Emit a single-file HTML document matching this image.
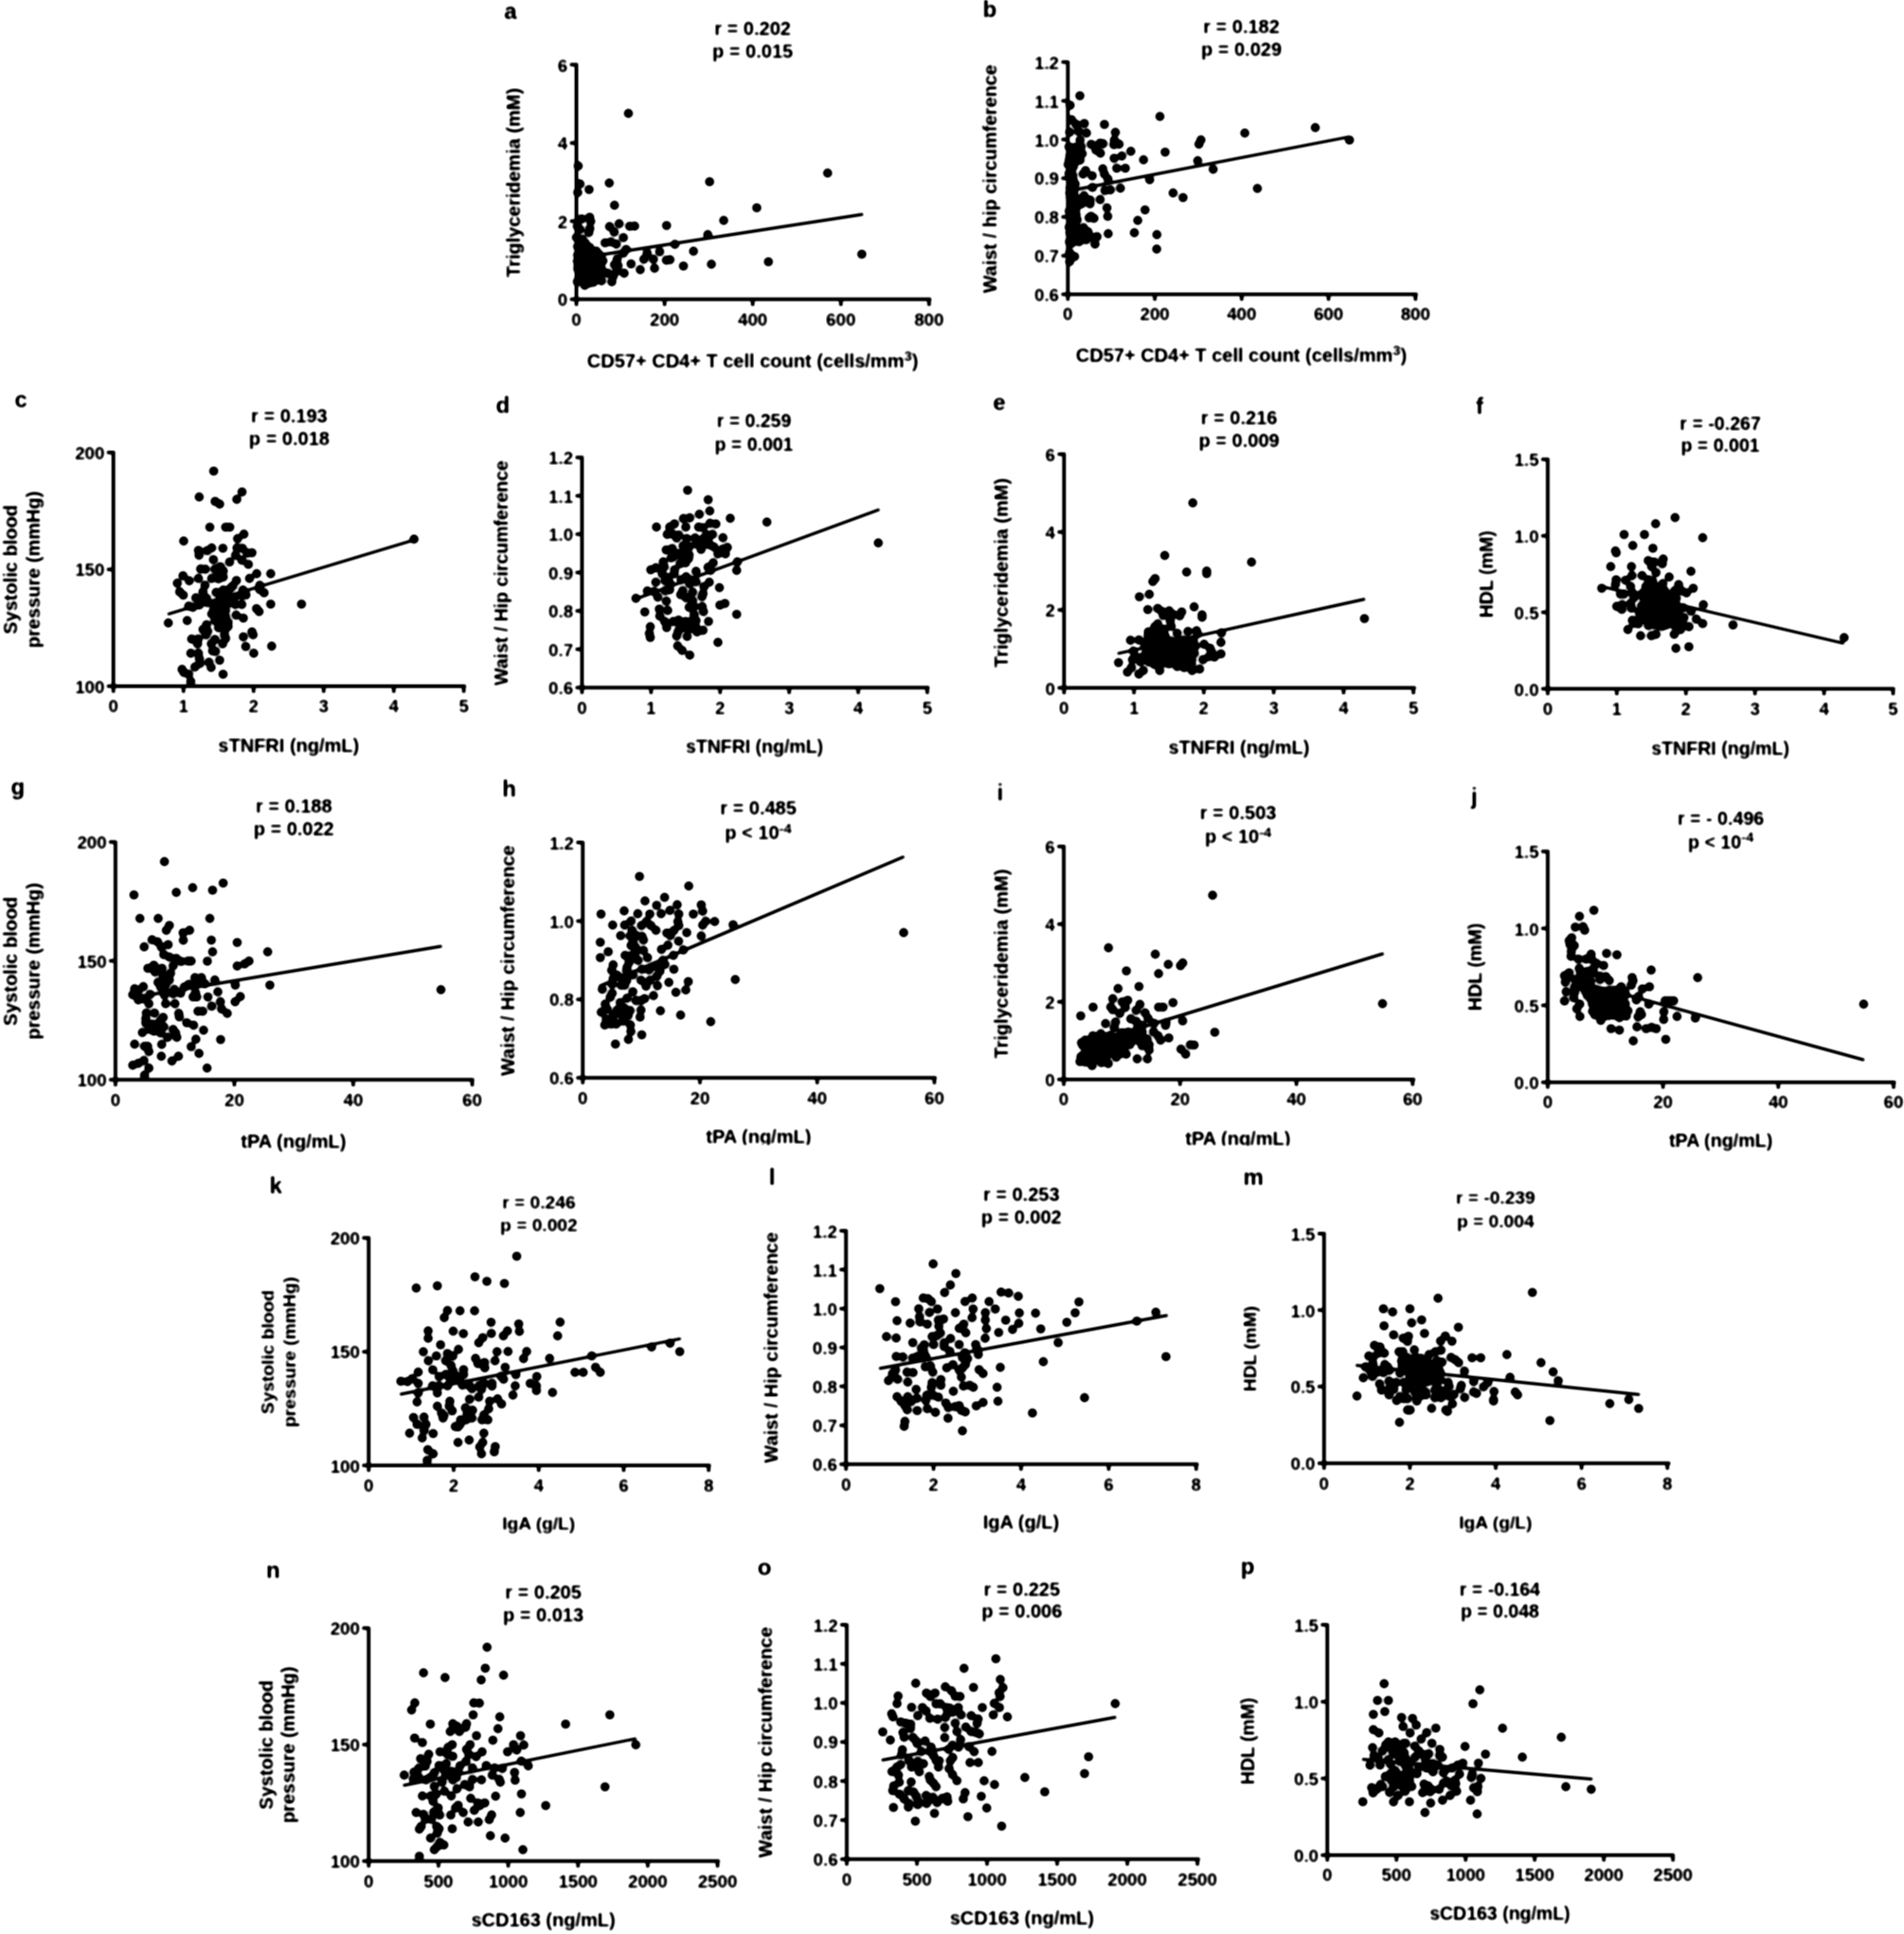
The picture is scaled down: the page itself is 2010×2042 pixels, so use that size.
<!DOCTYPE html>
<html><head><meta charset="utf-8"><title>Figure</title>
<style>
html,body{margin:0;padding:0;background:#fff;}
body{width:2010px;height:2042px;overflow:hidden;}
svg{display:block;}
svg text{font-family:"Liberation Sans",Arial,Helvetica,sans-serif;font-weight:bold;fill:#000;}
</style></head><body>
<svg width="2010" height="2042" viewBox="0 0 2010 2042">
<defs><filter id="soft" filterUnits="userSpaceOnUse" x="0" y="0" width="2010" height="2042"><feGaussianBlur stdDeviation="0.8"/><feComponentTransfer><feFuncA type="linear" slope="1.6" intercept="-0.18"/></feComponentTransfer></filter></defs>
<rect width="2010" height="2042" fill="#fff"/>
<g filter="url(#soft)">
<g id="panel-a">
<path d="M610.4 175.3h0M612.3 194.2h0M609.9 203.2h0M621.9 200.1h0M643.2 193.2h0M749.1 191.9h0M648.7 216.7h0M764 232.7h0M703.7 238.1h0M670 238.7h0M664.8 238.9h0M653.6 236.2h0M643.5 239.3h0M648.4 245h0M658.1 250.9h0M747.2 247.8h0M712.5 258h0M638.8 256.4h0M644.9 255.4h0M650.6 257.8h0M661 263.4h0M658.1 267.2h0M683.2 267.2h0M696.4 265.8h0M732.1 265.3h0M679.7 273.7h0M689.8 273.7h0M703.5 274.8h0M707.3 274.3h0M666.2 278.6h0M721.5 280.9h0M751 279h0M691 283.3h0M675.9 284.7h0M658.9 288.5h0M651.5 273.8h0M648.7 279.5h0M652.5 280.5h0M651.1 286.1h0M641.6 288.5h0M647.3 291.8h0M645.9 297.5h0M635 296.5h0M626.5 298h0M617.3 301.3h0M609.5 297.5h0M614.2 231.1h0M622.5 229.4h0M623.6 233.7h0M609.5 238.9h0M622.7 241.2h0M612.3 242.2h0M621.6 245.5h0M608.5 250.7h0M614.7 252.6h0M618 256.8h0M611.6 255.7h0M616.1 257.3h0M609.8 260.4h0M614 261.3h0M618.5 261.4h0M622.4 261.1h0M612.3 264.2h0M616.1 263.9h0M620.3 264.1h0M624.5 264.6h0M629.6 265.3h0M609.8 269.4h0M613.9 267.5h0M618.9 269.3h0M623.5 268.4h0M627.6 267.6h0M632.4 268.5h0M612.1 273.3h0M614.9 272.9h0M620.1 271.4h0M624.4 272.8h0M630.2 271.2h0M634.2 271.2h0M609.5 275.8h0M614.4 277.2h0M618.1 277.3h0M622.2 275.2h0M627.4 275.1h0M631 275.9h0M636.5 275.4h0M610.2 280.9h0M615.4 281.1h0M621.2 279.8h0M624.8 280.1h0M629.7 280.3h0M634.1 280.4h0M610 284h0M613.4 284.5h0M617.5 283.6h0M623.7 284.1h0M627.2 282.9h0M631.5 284.2h0M635.1 284.3h0M611.5 286.9h0M616.1 287.9h0M620.7 287.6h0M625.3 288.5h0M628.3 286.9h0M634.3 289h0M613.7 291.5h0M617.7 291.4h0M622.3 292.1h0M626.7 291.6h0M632.3 290.8h0M610.8 295.2h0M616.5 295.2h0M619.6 295.7h0M625.3 294.9h0M629 295.4h0M634.7 295.7h0M618.9 299.6h0M622 298.9h0M663.4 119.7h0M873.7 182.7h0M798.9 219.4h0M909.8 268.4h0M811.2 276.4h0" stroke="#000" stroke-width="9.4" stroke-linecap="round" fill="none"/>
<line x1="608.5" y1="272.9" x2="911.2" y2="226.3" stroke="#000" stroke-width="3.0"/>
<path d="M608.5 66.6V316.1H983.1M608.5 68.3h-6.8M608.5 150.9h-6.8M608.5 233.5h-6.8M608.5 316.1h-6.8M608.5 316.1v6.8M701.6 316.1v6.8M794.6 316.1v6.8M887.7 316.1v6.8M980.8 316.1v6.8" stroke="#000" stroke-width="3.5" fill="none" stroke-linejoin="miter" stroke-linecap="butt"/>
<text x="599.2" y="75.5" text-anchor="end" font-size="18.7">6</text>
<text x="599.2" y="158.1" text-anchor="end" font-size="18.7">4</text>
<text x="599.2" y="240.7" text-anchor="end" font-size="18.7">2</text>
<text x="599.2" y="323.3" text-anchor="end" font-size="18.7">0</text>
<text x="608.5" y="343.7" text-anchor="middle" font-size="18.7">0</text>
<text x="701.6" y="343.7" text-anchor="middle" font-size="18.7">200</text>
<text x="794.6" y="343.7" text-anchor="middle" font-size="18.7">400</text>
<text x="887.7" y="343.7" text-anchor="middle" font-size="18.7">600</text>
<text x="980.8" y="343.7" text-anchor="middle" font-size="18.7">800</text>
<text x="532.2" y="20.1" font-size="24">a</text>
<text x="794.6" y="37" text-anchor="middle" font-size="20.0">r = 0.202</text>
<text x="794.6" y="61.1" text-anchor="middle" font-size="20.0">p = 0.015</text>
<text x="794.6" y="387.9" text-anchor="middle" font-size="20.0">CD57+ CD4+ T cell count (cells/mm<tspan dy="-6.8" font-size="14.8">3</tspan><tspan dy="6.8">)</tspan></text>
<text transform="translate(549 192.9) rotate(-90)" text-anchor="middle" font-size="20.0">Triglyceridemia (mM)</text>
</g>
<g id="panel-b">
<path d="M1140 101.1h0M1129.7 111.1h0M1224.5 123h0M1131.3 126.5h0M1136 131.2h0M1144.7 130.4h0M1165.9 131.4h0M1129.2 139.6h0M1138.6 138.6h0M1147 140.5h0M1177.5 139.8h0M1140.2 148h0M1176.4 148h0M1152 152.4h0M1161.2 151.2h0M1164.4 151.7h0M1175.9 152.8h0M1181.4 152.2h0M1130.8 157.5h0M1141.3 154.9h0M1157 158.5h0M1161.7 161.7h0M1142.5 162.2h0M1193.8 159.8h0M1230 160.6h0M1267.8 147.8h0M1265.7 152.2h0M1314.1 140.5h0M1184.3 164.8h0M1176.2 167.1h0M1207.2 168.7h0M1140.2 169h0M1128.7 169h0M1127.6 173.8h0M1133.9 172.2h0M1264.4 169.8h0M1178.9 177.6h0M1188 177.6h0M1164.2 178.3h0M1146 180.1h0M1143.4 183.7h0M1165.9 183.7h0M1153 185.6h0M1169.6 189h0M1280.7 178.7h0M1213.7 189.8h0M1130.8 184.8h0M1132.9 190h0M1135 194.2h0M1153.3 197.9h0M1166.5 201.1h0M1172.2 200.5h0M1182.8 198.7h0M1129.7 198.4h0M1238.4 203.7h0M1248.9 208.6h0M1144.4 206.8h0M1150.7 211.1h0M1161.4 210.8h0M1141.8 215.3h0M1150.7 215.3h0M1131.8 205.8h0M1133.9 211.1h0M1130.8 216.3h0M1168.6 219.5h0M1208.8 221.6h0M1132.9 222.6h0M1136 226.8h0M1169.4 228.4h0M1149.7 230h0M1154.9 230.5h0M1151.8 228.4h0M1201.1 232.8h0M1137.1 232.1h0M1130.8 234.2h0M1128.7 239.9h0M1135 238.4h0M1143.9 240.5h0M1148.6 244.7h0M1140.2 245.7h0M1169.9 246.8h0M1197.5 245.7h0M1221.3 247.8h0M1158.1 249.9h0M1154.9 251h0M1146.5 253.1h0M1139.2 255.2h0M1130.8 248.9h0M1130.8 257.3h0M1156 257.8h0M1221.1 263h0M1129.2 266.7h0M1134.4 270.9h0M1129.2 276.2h0M1128.5 155h0M1134.8 155.6h0M1131.7 160.6h0M1135.4 159.2h0M1129.4 164.8h0M1135.1 163.2h0M1130.9 168.6h0M1136.9 169.6h0M1133.3 175.5h0M1131.8 178.4h0M1128.5 183.3h0M1132.5 185.4h0M1130.2 188.5h0M1134 194.9h0M1130.2 200.6h0M1129.3 203.8h0M1133.5 203.4h0M1130 208.1h0M1136.2 209.7h0M1133.4 213.8h0M1131.9 219.3h0M1136.3 219.3h0M1128.7 223.1h0M1135.3 223h0M1131.7 230.4h0M1135.4 230.2h0M1132.5 233.1h0M1130.1 240.7h0M1135.9 240.1h0M1129.4 245.7h0M1133.5 244h0M1131.1 250.2h0M1135.7 250.1h0M1129 255.4h0M1132.6 255.7h0M1388.5 134.7h0M1424.6 147.9h0M1327.4 199h0" stroke="#000" stroke-width="9.4" stroke-linecap="round" fill="none"/>
<line x1="1127.3" y1="201.7" x2="1423.8" y2="144.6" stroke="#000" stroke-width="3.0"/>
<path d="M1127.3 63.9V310.7H1496.6M1127.3 65.6h-6.8M1127.3 106.5h-6.8M1127.3 147.3h-6.8M1127.3 188.2h-6.8M1127.3 229h-6.8M1127.3 269.9h-6.8M1127.3 310.7h-6.8M1127.3 310.7v6.8M1219.1 310.7v6.8M1310.8 310.7v6.8M1402.5 310.7v6.8M1494.3 310.7v6.8" stroke="#000" stroke-width="3.5" fill="none" stroke-linejoin="miter" stroke-linecap="butt"/>
<text x="1118" y="72.8" text-anchor="end" font-size="18.7">1.2</text>
<text x="1118" y="113.7" text-anchor="end" font-size="18.7">1.1</text>
<text x="1118" y="154.5" text-anchor="end" font-size="18.7">1.0</text>
<text x="1118" y="195.4" text-anchor="end" font-size="18.7">0.9</text>
<text x="1118" y="236.2" text-anchor="end" font-size="18.7">0.8</text>
<text x="1118" y="277.1" text-anchor="end" font-size="18.7">0.7</text>
<text x="1118" y="317.9" text-anchor="end" font-size="18.7">0.6</text>
<text x="1127.3" y="338.3" text-anchor="middle" font-size="18.7">0</text>
<text x="1219.1" y="338.3" text-anchor="middle" font-size="18.7">200</text>
<text x="1310.8" y="338.3" text-anchor="middle" font-size="18.7">400</text>
<text x="1402.5" y="338.3" text-anchor="middle" font-size="18.7">600</text>
<text x="1494.3" y="338.3" text-anchor="middle" font-size="18.7">800</text>
<text x="1037.6" y="18.2" font-size="24">b</text>
<text x="1310.5" y="35.4" text-anchor="middle" font-size="20.0">r = 0.182</text>
<text x="1310.5" y="58.9" text-anchor="middle" font-size="20.0">p = 0.029</text>
<text x="1310.5" y="381.7" text-anchor="middle" font-size="20.0">CD57+ CD4+ T cell count (cells/mm<tspan dy="-6.8" font-size="14.8">3</tspan><tspan dy="6.8">)</tspan></text>
<text transform="translate(1051.5 188.8) rotate(-90)" text-anchor="middle" font-size="20.0">Waist / hip circumference</text>
</g>
<g id="panel-c">
<path d="M225.6 497.4h0M255.5 519.4h0M210.3 524.7h0M250 527.2h0M227.1 529.4h0M231.9 532.3h0M221.5 556.6h0M238.2 556.6h0M242.6 556.6h0M257.5 564h0M250.8 568.8h0M193.9 571.3h0M223.5 578.5h0M218.7 581.4h0M209.5 581.1h0M210.1 586.2h0M235.3 578.9h0M250.2 578.5h0M255.9 578.9h0M248.7 586.2h0M260.9 583.9h0M266 583.6h0M225.3 590.9h0M242.4 593.4h0M255.3 591.5h0M262.2 595.9h0M211.8 600.7h0M216.8 601h0M232.6 598.4h0M226.9 601h0M235.7 602.9h0M230.7 606h0M271 605.8h0M285.8 605.8h0M193.2 607.9h0M199.8 613.3h0M209.5 610.8h0M223.5 610.8h0M230.7 611.1h0M235.7 609.2h0M249.6 612.9h0M263.4 610.8h0M187.2 615.8h0M216.4 618h0M274.2 618h0M189.7 624.9h0M193.5 628.4h0M214.3 624.9h0M228.2 625.5h0M235.7 623h0M243.3 621.1h0M245.8 618.6h0M256.5 623h0M274.2 622.4h0M278.8 625.9h0M259.7 628.1h0M255.3 628.7h0M206.7 631.2h0M210.5 633.7h0M218.1 631.8h0M233.2 631.2h0M240.8 630h0M247.1 631.2h0M199.2 640h0M203.6 641.3h0M210.5 638.8h0M218.7 636.3h0M225.6 638.2h0M232.6 638.2h0M239.5 638.2h0M248.3 638.2h0M255.3 638.2h0M285.8 637.9h0M318.3 637.9h0M270.8 642.6h0M273.5 645.7h0M225.6 643.8h0M231.9 644.5h0M238.2 644.5h0M223.5 648.2h0M230.7 650.1h0M238.2 651.4h0M249.3 649.5h0M256.9 652.6h0M177.7 657.7h0M197.6 655.2h0M226.9 655.2h0M233.2 657.1h0M240.8 657.1h0M218.1 659.6h0M214.3 664.6h0M219.3 666.5h0M217.4 670.3h0M230.7 662.7h0M238.2 664h0M240.8 661.5h0M266 667.1h0M267.2 670.3h0M256.9 672.4h0M237 670.3h0M238.2 674.1h0M202.3 674.7h0M209.2 674.7h0M208.6 679.7h0M226.9 675.3h0M223.1 679.7h0M235.1 679.7h0M259.4 682.6h0M286.8 682.3h0M224.4 687.3h0M227.5 687.7h0M201.4 689.8h0M209.5 689.8h0M267.9 689.8h0M210.5 695.5h0M211.1 700.5h0M220.6 699.3h0M231.9 697.1h0M205.8 704.3h0M222.9 704.7h0M192.2 706.8h0M194.1 710h0M199.2 711.9h0M235.5 711.9h0M201.4 719.5h0M437.1 569.3h0" stroke="#000" stroke-width="9.4" stroke-linecap="round" fill="none"/>
<line x1="176.8" y1="648.6" x2="437.1" y2="570.1" stroke="#000" stroke-width="3.0"/>
<path d="M119.7 475.9V724.6H491.9M119.7 477.7h-6.8M119.7 601.2h-6.8M119.7 724.6h-6.8M119.7 724.6v6.8M193.7 724.6v6.8M267.7 724.6v6.8M341.7 724.6v6.8M415.7 724.6v6.8M489.6 724.6v6.8" stroke="#000" stroke-width="3.5" fill="none" stroke-linejoin="miter" stroke-linecap="butt"/>
<text x="110.4" y="484.9" text-anchor="end" font-size="18.7">200</text>
<text x="110.4" y="608.4" text-anchor="end" font-size="18.7">150</text>
<text x="110.4" y="731.8" text-anchor="end" font-size="18.7">100</text>
<text x="119.7" y="752.2" text-anchor="middle" font-size="18.7">0</text>
<text x="193.7" y="752.2" text-anchor="middle" font-size="18.7">1</text>
<text x="267.7" y="752.2" text-anchor="middle" font-size="18.7">2</text>
<text x="341.7" y="752.2" text-anchor="middle" font-size="18.7">3</text>
<text x="415.7" y="752.2" text-anchor="middle" font-size="18.7">4</text>
<text x="489.6" y="752.2" text-anchor="middle" font-size="18.7">5</text>
<text x="15.6" y="430.3" font-size="24">c</text>
<text x="305.4" y="446.1" text-anchor="middle" font-size="20.0">r = 0.193</text>
<text x="305.4" y="470.2" text-anchor="middle" font-size="20.0">p = 0.018</text>
<text x="304.8" y="794.3" text-anchor="middle" font-size="20.0">sTNFRI (ng/mL)</text>
<text transform="translate(18.2 601.4) rotate(-90)" text-anchor="middle" font-size="20.0">Systolic blood</text>
<text transform="translate(41.8 601.4) rotate(-90)" text-anchor="middle" font-size="20.0">pressure (mmHg)</text>
</g>
<g id="panel-d">
<path d="M725.9 517.6h0M747.6 527.6h0M749.3 539.5h0M738.3 543h0M728.2 546.8h0M721.5 547.5h0M770.9 547.3h0M809.6 551.2h0M693 556.5h0M712 553.1h0M707 556.5h0M724 556.5h0M749.5 552.5h0M755.8 553.3h0M737.5 556.5h0M742.2 557.3h0M704.4 564.3h0M709.6 563.8h0M716.4 564.9h0M714.3 568h0M724.9 568.6h0M733.8 568h0M746.4 564.9h0M752.2 564.3h0M743.2 568h0M763.2 567.8h0M747.4 570.1h0M739 572.2h0M721.2 576.4h0M727.5 577.5h0M734.8 574.3h0M742.2 575.4h0M749.5 575.4h0M753.7 577.5h0M767.9 578h0M763.2 579.6h0M703.3 580.6h0M709.6 579.1h0M740.1 580.1h0M757.9 584.8h0M765.8 584.8h0M715.9 584.8h0M722.2 583.8h0M727.5 585.9h0M710.7 588h0M708.6 589h0M727 589.6h0M720.7 592.2h0M700.2 593.2h0M718 595.3h0M723.8 594.3h0M752.9 594.3h0M701.2 598.5h0M692.3 599.5h0M687 601.6h0M712.2 601.6h0M747.4 599h0M750.1 602.2h0M778.4 593.2h0M777.7 602.2h0M734.8 603.2h0M699.1 605.8h0M711.7 605.8h0M705.4 610h0M724.3 609h0M719.1 612.1h0M728.5 612.1h0M734.8 614.2h0M702.3 613.2h0M707.5 616.3h0M692.3 614.8h0M728 616.3h0M748.8 614.8h0M743.2 619.5h0M759.5 620.5h0M683.4 624h0M690.7 624.7h0M702.3 623.7h0M707 622.6h0M720.7 623.7h0M731.2 625.3h0M742.2 626.8h0M718.6 627.9h0M741.1 630h0M671.3 631.8h0M694.4 630.5h0M724.3 631.1h0M731.2 634.2h0M703.5 634.7h0M765.3 637.1h0M760 638.9h0M727.5 641.3h0M732.7 640.5h0M741.3 640.5h0M696 643.1h0M704.9 644.5h0M742.7 645.8h0M680.7 646.1h0M777.7 648.6h0M696.5 650.5h0M732.7 648.9h0M701.7 656.3h0M710.7 656.3h0M716.4 654.7h0M723.8 656.3h0M729.6 656.3h0M734.8 655.2h0M748 656.1h0M686.5 661.8h0M703.8 662.6h0M718 661.5h0M723.3 662.6h0M728.5 663.6h0M734.3 661.5h0M742.2 665.5h0M715.9 666.8h0M685.5 668.7h0M735.9 667.3h0M686.5 673.1h0M714.3 671.5h0M725.4 672h0M757.9 678.3h0M715.4 682h0M720.1 686.7h0M728.2 691.8h0M927.2 573.3h0" stroke="#000" stroke-width="9.4" stroke-linecap="round" fill="none"/>
<line x1="675.4" y1="630.9" x2="928.6" y2="537.9" stroke="#000" stroke-width="3.0"/>
<path d="M614.4 481.3V726H981.2M614.4 483h-6.8M614.4 523.5h-6.8M614.4 564h-6.8M614.4 604.5h-6.8M614.4 645h-6.8M614.4 685.5h-6.8M614.4 726h-6.8M614.4 726v6.8M687.3 726v6.8M760.2 726v6.8M833.1 726v6.8M906 726v6.8M978.9 726v6.8" stroke="#000" stroke-width="3.5" fill="none" stroke-linejoin="miter" stroke-linecap="butt"/>
<text x="605.1" y="490.2" text-anchor="end" font-size="18.7">1.2</text>
<text x="605.1" y="530.7" text-anchor="end" font-size="18.7">1.1</text>
<text x="605.1" y="571.2" text-anchor="end" font-size="18.7">1.0</text>
<text x="605.1" y="611.7" text-anchor="end" font-size="18.7">0.9</text>
<text x="605.1" y="652.2" text-anchor="end" font-size="18.7">0.8</text>
<text x="605.1" y="692.7" text-anchor="end" font-size="18.7">0.7</text>
<text x="605.1" y="733.2" text-anchor="end" font-size="18.7">0.6</text>
<text x="614.4" y="753.6" text-anchor="middle" font-size="18.7">0</text>
<text x="687.3" y="753.6" text-anchor="middle" font-size="18.7">1</text>
<text x="760.2" y="753.6" text-anchor="middle" font-size="18.7">2</text>
<text x="833.1" y="753.6" text-anchor="middle" font-size="18.7">3</text>
<text x="906" y="753.6" text-anchor="middle" font-size="18.7">4</text>
<text x="978.9" y="753.6" text-anchor="middle" font-size="18.7">5</text>
<text x="523.6" y="435.6" font-size="24">d</text>
<text x="796" y="451.4" text-anchor="middle" font-size="19.5">r = 0.259</text>
<text x="796" y="475.5" text-anchor="middle" font-size="19.5">p = 0.001</text>
<text x="796.5" y="795.1" text-anchor="middle" font-size="19.5">sTNFRI (ng/mL)</text>
<text transform="translate(535.6 604.9) rotate(-90)" text-anchor="middle" font-size="19.5">Waist / Hip circumference</text>
</g>
<g id="panel-e">
<path d="M1259.2 531h0M1229.6 586.5h0M1321.2 593.5h0M1252.7 604h0M1273.9 603h0M1273.9 605.6h0M1219.4 610.9h0M1217 614h0M1213.3 627.5h0M1202.8 630.1h0M1211.7 643.6h0M1222.2 642.4h0M1226.4 645.5h0M1234.3 645h0M1247.5 646.1h0M1245.4 650.3h0M1228 649.7h0M1238.5 648.7h0M1260.6 640.8h0M1269 649.2h0M1269 651.8h0M1235.4 655.5h0M1222.2 658.7h0M1219.1 661.8h0M1236.4 661.3h0M1229.1 664.4h0M1212.3 667.1h0M1242.7 668.6h0M1254.1 666.7h0M1263.2 666h0M1264.3 669.2h0M1289.5 668.1h0M1193.4 676h0M1202.3 675.7h0M1288.9 678.3h0M1271.1 680.2h0M1277.4 684.4h0M1279 688.1h0M1288.9 690.4h0M1282.1 693.8h0M1276.3 693.3h0M1270 696.5h0M1180.8 699.6h0M1196.5 687.5h0M1195.5 696.5h0M1194.4 704.9h0M1190.2 709.6h0M1202.3 711.7h0M1207 708h0M1224.3 708h0M1242.7 703.8h0M1250.1 704.9h0M1258.5 708h0M1266.4 706.4h0M1201.8 694.4h0M1203.9 698.6h0M1220.1 667.1h0M1212.1 670.7h0M1218 672.7h0M1223.2 672h0M1229.9 671.4h0M1210.4 677.5h0M1216.5 675.9h0M1222.6 675.5h0M1226.5 677.2h0M1231.3 676.5h0M1236.4 677h0M1243.9 676.7h0M1249.6 676h0M1254.6 676.8h0M1259.8 676.4h0M1208.6 682.5h0M1213 681.7h0M1217.4 681.8h0M1224.4 682.6h0M1230.4 680.7h0M1234.6 681.7h0M1239.1 681.1h0M1245 680.2h0M1250.1 682h0M1255.8 680.6h0M1262 682.3h0M1210.5 687h0M1216.7 687h0M1220.7 685.7h0M1226.4 687h0M1233.5 685h0M1236.8 685.2h0M1242.4 685.9h0M1248.9 685.3h0M1252.7 685.8h0M1259.2 686.2h0M1208.9 691.2h0M1213.2 691h0M1219.1 689.5h0M1225.1 691.5h0M1230.5 691.5h0M1234.7 690.4h0M1239.3 691.1h0M1244.7 689.5h0M1250.5 689.8h0M1256.4 689.5h0M1260.9 689.8h0M1209.1 696.5h0M1216.2 694.5h0M1220.6 695h0M1226.4 694.4h0M1233.2 696.8h0M1237.6 695.4h0M1242 694.4h0M1248.2 694.8h0M1255 694.5h0M1258.2 696.7h0M1213.2 698.9h0M1218.6 701.5h0M1225 700.7h0M1228.8 699.8h0M1234 700.9h0M1240.5 700.9h0M1245.4 699.4h0M1252.2 701.5h0M1257.8 701h0M1440.4 653.1h0" stroke="#000" stroke-width="9.4" stroke-linecap="round" fill="none"/>
<line x1="1179.6" y1="690.1" x2="1441.2" y2="632.5" stroke="#000" stroke-width="3.0"/>
<path d="M1123.3 477.8V726.2H1494.7M1123.3 479.6h-6.8M1123.3 561.8h-6.8M1123.3 644h-6.8M1123.3 726.2h-6.8M1123.3 726.2v6.8M1197.1 726.2v6.8M1270.8 726.2v6.8M1344.6 726.2v6.8M1418.4 726.2v6.8M1492.1 726.2v6.8" stroke="#000" stroke-width="3.5" fill="none" stroke-linejoin="miter" stroke-linecap="butt"/>
<text x="1114" y="486.8" text-anchor="end" font-size="18.7">6</text>
<text x="1114" y="569" text-anchor="end" font-size="18.7">4</text>
<text x="1114" y="651.2" text-anchor="end" font-size="18.7">2</text>
<text x="1114" y="733.5" text-anchor="end" font-size="18.7">0</text>
<text x="1123.3" y="753.9" text-anchor="middle" font-size="18.7">0</text>
<text x="1197.1" y="753.9" text-anchor="middle" font-size="18.7">1</text>
<text x="1270.8" y="753.9" text-anchor="middle" font-size="18.7">2</text>
<text x="1344.6" y="753.9" text-anchor="middle" font-size="18.7">3</text>
<text x="1418.4" y="753.9" text-anchor="middle" font-size="18.7">4</text>
<text x="1492.1" y="753.9" text-anchor="middle" font-size="18.7">5</text>
<text x="1048.3" y="432.9" font-size="24">e</text>
<text x="1308.1" y="448.2" text-anchor="middle" font-size="20.0">r = 0.216</text>
<text x="1308.1" y="472.3" text-anchor="middle" font-size="20.0">p = 0.009</text>
<text x="1307.9" y="796.4" text-anchor="middle" font-size="20.0">sTNFRI (ng/mL)</text>
<text transform="translate(1064.4 604.9) rotate(-90)" text-anchor="middle" font-size="20.0">Triglyceridemia (mM)</text>
</g>
<g id="panel-f">
<path d="M1768.3 546.5h0M1747.8 553h0M1714.5 564.4h0M1736 564.4h0M1797.5 567.7h0M1723.7 576h0M1744.9 578.9h0M1705.4 581.8h0M1706.2 583.6h0M1755.8 590.3h0M1740 591.9h0M1746.4 593.4h0M1754.9 595.2h0M1743.6 598.3h0M1700.4 598.3h0M1722.3 598.3h0M1748.2 604.6h0M1785.1 603.2h0M1722.8 607.7h0M1733.5 607.7h0M1762.1 609.3h0M1706.1 612.1h0M1716.1 612.6h0M1740.2 612.1h0M1744.6 613.5h0M1755.4 616.2h0M1705.4 617.1h0M1772.1 617.3h0M1690.9 621.1h0M1721.4 619.3h0M1737.5 619.3h0M1750 620.2h0M1787.5 621.1h0M1767.9 623.8h0M1775 623.8h0M1710.7 627.3h0M1714.3 627.3h0M1723.7 626.4h0M1780.4 626h0M1725 630.9h0M1739.3 628.2h0M1746.4 628.2h0M1755.4 629.1h0M1764.3 628.2h0M1769.6 631.8h0M1736.6 635.4h0M1742.9 635.4h0M1750.9 634.5h0M1762.5 635.4h0M1706.7 640.3h0M1712.5 638.5h0M1721.4 637.1h0M1733 639.8h0M1798.2 638.5h0M1712.1 643.4h0M1722.3 642.1h0M1744.6 641.6h0M1752.7 644.3h0M1764.3 642.5h0M1776.8 641.6h0M1785.3 645.2h0M1730.4 646.1h0M1739.3 647h0M1758.9 648.8h0M1771.4 648.8h0M1777.7 652.3h0M1790.8 653.7h0M1723.2 655h0M1730.4 653.2h0M1737.5 654.1h0M1746.4 653.2h0M1753.6 655h0M1762.5 655h0M1769.6 655h0M1724.6 658.1h0M1729.5 658.6h0M1740.2 660.4h0M1746.4 659.5h0M1754.5 661.2h0M1759.8 659.5h0M1767.9 660.4h0M1775.9 658.6h0M1783 661.7h0M1797.5 658.4h0M1829.5 659.9h0M1718.5 664.8h0M1774.1 664.8h0M1767.4 669.7h0M1748.2 669.7h0M1743.3 671.3h0M1731.9 671.3h0M1769.2 684.5h0M1782.9 682.9h0M1738.1 621.3h0M1743.5 620.9h0M1748.2 620.8h0M1752.6 619.7h0M1734.8 625.7h0M1741.7 623.5h0M1745.6 624.7h0M1749.8 624.5h0M1757.3 623.7h0M1732.2 627.9h0M1737 629.3h0M1742.1 628.1h0M1748.5 630.3h0M1753.5 628.9h0M1759.2 628.1h0M1764.2 628.3h0M1735.8 632.7h0M1740.1 634.9h0M1747.2 632.7h0M1751.6 634.8h0M1755.6 633.9h0M1760.2 633.3h0M1767.1 633.9h0M1737.7 639.1h0M1743.5 638h0M1748.2 639.4h0M1753.9 636.9h0M1759.6 637.7h0M1763.8 637.4h0M1769.1 637.7h0M1739.5 643.3h0M1746.7 642.6h0M1751.6 642h0M1756.9 642.4h0M1760.7 643.8h0M1766.4 642.3h0M1738.6 646.3h0M1744.2 646.5h0M1747.3 648.3h0M1752.8 648.3h0M1760.1 647.4h0M1762.8 646h0M1768.4 646.8h0M1735.2 650.7h0M1740.9 650.7h0M1744.8 651.7h0M1751.6 650.5h0M1756.1 652.1h0M1762.1 651.3h0M1767.6 650.7h0M1739.1 656.1h0M1742.3 654.9h0M1748.6 655.2h0M1754 655h0M1759.6 655.4h0M1762.8 655.2h0M1752.1 660.7h0M1756.3 660.7h0M1946.8 673.2h0" stroke="#000" stroke-width="9.4" stroke-linecap="round" fill="none"/>
<line x1="1692.3" y1="619.6" x2="1946.8" y2="679.4" stroke="#000" stroke-width="3.0"/>
<path d="M1633.9 483.2V727.3H2000.5M1633.9 484.9h-6.8M1633.9 565.7h-6.8M1633.9 646.5h-6.8M1633.9 727.3h-6.8M1633.9 727.3v6.8M1706.8 727.3v6.8M1779.8 727.3v6.8M1852.7 727.3v6.8M1925.6 727.3v6.8M1998.5 727.3v6.8" stroke="#000" stroke-width="3.5" fill="none" stroke-linejoin="miter" stroke-linecap="butt"/>
<text x="1624.6" y="492.1" text-anchor="end" font-size="18.7">1.5</text>
<text x="1624.6" y="572.9" text-anchor="end" font-size="18.7">1.0</text>
<text x="1624.6" y="653.7" text-anchor="end" font-size="18.7">0.5</text>
<text x="1624.6" y="734.5" text-anchor="end" font-size="18.7">0.0</text>
<text x="1633.9" y="754.9" text-anchor="middle" font-size="18.7">0</text>
<text x="1706.8" y="754.9" text-anchor="middle" font-size="18.7">1</text>
<text x="1779.8" y="754.9" text-anchor="middle" font-size="18.7">2</text>
<text x="1852.7" y="754.9" text-anchor="middle" font-size="18.7">3</text>
<text x="1925.6" y="754.9" text-anchor="middle" font-size="18.7">4</text>
<text x="1998.5" y="754.9" text-anchor="middle" font-size="18.7">5</text>
<text x="1557.9" y="437" font-size="24">f</text>
<text x="1816.1" y="453.6" text-anchor="middle" font-size="19.6">r = -0.267</text>
<text x="1816.1" y="477.1" text-anchor="middle" font-size="19.6">p = 0.001</text>
<text x="1816.1" y="797" text-anchor="middle" font-size="19.6">sTNFRI (ng/mL)</text>
<text transform="translate(1575.8 606.2) rotate(-90)" text-anchor="middle" font-size="19.6">HDL (mM)</text>
</g>
<g id="panel-g">
<path d="M173.6 909.7h0M235.6 932.4h0M203.4 937.3h0M224.4 939.9h0M186.1 942.3h0M141.4 944.9h0M147.7 969.8h0M167 969.8h0M221.5 969.8h0M178.8 977.1h0M175.6 982.3h0M200.2 982.3h0M193.3 984.9h0M193.5 992.8h0M160.5 992.2h0M166.4 994.5h0M177.5 997.4h0M152.2 999.8h0M170.3 1000h0M223.1 992.6h0M250.4 995.1h0M224.4 1005h0M282.6 1005h0M172.9 1007.9h0M178.8 1010.5h0M186.1 1011.9h0M191.3 1015.1h0M198.5 1014.7h0M201.8 1014.7h0M218.9 1014.9h0M262.9 1014.7h0M258.3 1017.8h0M250.4 1020h0M162.4 1019.1h0M156.1 1022.4h0M171 1022.4h0M182.8 1019.7h0M163.7 1026.3h0M180.1 1027.6h0M172.3 1030.2h0M205.8 1032.2h0M212.7 1032.2h0M178.8 1034.8h0M166.8 1037.2h0M226.8 1034.8h0M169.6 1042.1h0M174.9 1039.4h0M199.2 1039.4h0M207.7 1038.8h0M216.3 1038.8h0M194.6 1042.1h0M151.3 1041.8h0M142.1 1044h0M146 1046h0M140.1 1050.3h0M144.7 1051.9h0M184.1 1044.7h0M174.9 1047.3h0M182.8 1049.3h0M190.7 1048.6h0M158.5 1049.9h0M173.6 1050.6h0M248.4 1040.1h0M284.9 1040.1h0M230 1047.3h0M206.4 1048h0M203.8 1052.6h0M207.7 1052.6h0M219.5 1052.6h0M253.7 1052.3h0M146 1055.8h0M151.3 1054.5h0M157.2 1059.8h0M174.9 1059.8h0M184.7 1059.8h0M232.7 1057.8h0M248.2 1057.8h0M223.5 1062.4h0M234 1065.4h0M239.9 1070h0M209 1067.7h0M214 1067.7h0M154.5 1069.6h0M163.1 1069.6h0M188.7 1070h0M189.3 1073.6h0M172.3 1074.2h0M153.9 1075.5h0M169 1078.2h0M153.9 1080.1h0M161.1 1081.4h0M172.9 1084.1h0M197.2 1079.9h0M204.4 1082.5h0M157.8 1086.7h0M165.7 1086h0M182.8 1087h0M214.9 1087.8h0M150.3 1090.2h0M162.4 1088.7h0M169.6 1090.6h0M185.4 1090.6h0M176.9 1095.2h0M186.7 1095.2h0M206.8 1097.2h0M232.9 1097.6h0M142.1 1102.5h0M170.7 1102.7h0M152.6 1104.8h0M155.9 1104.8h0M201.8 1105.1h0M157.2 1110.3h0M210.1 1112.3h0M170.3 1115.3h0M188.4 1115.3h0M181.5 1120.2h0M151.9 1119.8h0M146 1122.8h0M140.1 1124.8h0M157.2 1127.7h0M218.6 1127.7h0M152.6 1135.3h0M465.5 1045h0" stroke="#000" stroke-width="9.4" stroke-linecap="round" fill="none"/>
<line x1="139.3" y1="1053.6" x2="466.6" y2="998.9" stroke="#000" stroke-width="3.0"/>
<path d="M121.9 887.4V1140.1H500.5M121.9 889.1h-6.8M121.9 1014.6h-6.8M121.9 1140.1h-6.8M121.9 1140.1v6.8M247.4 1140.1v6.8M372.9 1140.1v6.8M498.5 1140.1v6.8" stroke="#000" stroke-width="3.5" fill="none" stroke-linejoin="miter" stroke-linecap="butt"/>
<text x="112.6" y="896.3" text-anchor="end" font-size="18.7">200</text>
<text x="112.6" y="1021.8" text-anchor="end" font-size="18.7">150</text>
<text x="112.6" y="1147.3" text-anchor="end" font-size="18.7">100</text>
<text x="121.9" y="1167.7" text-anchor="middle" font-size="18.7">0</text>
<text x="247.4" y="1167.7" text-anchor="middle" font-size="18.7">20</text>
<text x="372.9" y="1167.7" text-anchor="middle" font-size="18.7">40</text>
<text x="498.5" y="1167.7" text-anchor="middle" font-size="18.7">60</text>
<text x="11.6" y="839" font-size="24">g</text>
<text x="310.2" y="857.5" text-anchor="middle" font-size="20.0">r = 0.188</text>
<text x="310.2" y="882.1" text-anchor="middle" font-size="20.0">p = 0.022</text>
<text x="309.9" y="1211.6" text-anchor="middle" font-size="20.0">tPA (ng/mL)</text>
<text transform="translate(18.2 1015) rotate(-90)" text-anchor="middle" font-size="20.0">Systolic blood</text>
<text transform="translate(42.1 1015) rotate(-90)" text-anchor="middle" font-size="20.0">pressure (mmHg)</text>
</g>
<clipPath id="cl-h"><rect x="500" y="1148.9" width="520" height="60"/></clipPath>
<g id="panel-h">
<path d="M675.1 925.4h0M727.1 935.5h0M701.6 947.5h0M680.9 951.2h0M693.2 955.9h0M714.9 955.2h0M740.3 955.4h0M741.8 962h0M707.2 961.3h0M658.9 961.8h0M634.5 965.1h0M673.3 964.8h0M686 965.1h0M697.9 964.8h0M716.6 965.1h0M731.9 965.1h0M666.2 972.5h0M682.5 973h0M715.6 973h0M745 972.8h0M754.5 973h0M741.8 976.7h0M646.8 976.7h0M659.4 976.7h0M677.2 977.2h0M687.2 977.2h0M716.6 977.2h0M773.9 976.4h0M692.5 982.3h0M667.3 982.5h0M711.4 982.5h0M704 985.1h0M725 984.8h0M655.2 987.9h0M665.2 988.3h0M671.5 987.7h0M677.8 988.8h0M707.7 987.7h0M740.3 988.3h0M679.3 992.5h0M668.3 994h0M716.4 993.7h0M633.7 994.9h0M666.2 998.2h0M670.9 1000.3h0M705.1 998h0M698.3 1002.4h0M679.3 1003.5h0M642.1 1004.9h0M721.4 1003h0M670.4 1006.6h0M659.9 1008.7h0M666.2 1009.3h0M710.9 1008.7h0M633.7 1011.1h0M683.6 1011.1h0M673.6 1014h0M699.8 1014h0M664.1 1016.1h0M647.3 1018.7h0M701.9 1018.2h0M662 1021.3h0M692.5 1020.3h0M677.8 1023.4h0M685.1 1024h0M711.4 1023.4h0M645.7 1024.5h0M661.5 1024.5h0M696.7 1025.5h0M651.5 1029.7h0M668.3 1029.2h0M656.8 1032.9h0M693.5 1030.8h0M647.3 1033.4h0M676.7 1035h0M686.2 1035h0M661.5 1035.5h0M706.1 1037.3h0M726.6 1036.4h0M776.2 1034.2h0M646.3 1039.2h0M655.7 1040.3h0M659.4 1040.3h0M682 1041.3h0M694.1 1040.8h0M635.8 1044.5h0M724 1045.3h0M646.3 1048.7h0M668.1 1047.1h0M713.5 1047.8h0M644.2 1052.9h0M689.9 1051.3h0M662 1053.9h0M680.4 1054.4h0M671.5 1056.5h0M676.7 1056.5h0M654.7 1058.6h0M638.9 1060.2h0M641 1065.5h0M658.9 1064.4h0M651.5 1066.5h0M665.2 1067h0M676.7 1066.5h0M697.2 1067.2h0M634.7 1068.8h0M647.8 1071.8h0M656.8 1072.3h0M663.1 1072.3h0M718.5 1071.8h0M675.7 1073.9h0M640 1076h0M647.3 1078.1h0M657.8 1078.1h0M750.3 1078.8h0M638.4 1082.3h0M645.2 1081.2h0M650.5 1081.2h0M665.5 1082.3h0M666 1089.1h0M677.5 1092.6h0M663.4 1097.5h0M649.7 1102.4h0M954 984.7h0" stroke="#000" stroke-width="9.4" stroke-linecap="round" fill="none"/>
<line x1="632.6" y1="1041.5" x2="954.6" y2="904.4" stroke="#000" stroke-width="3.0"/>
<path d="M615.2 887.9V1137.9H988.7M615.2 889.6h-6.8M615.2 972.4h-6.8M615.2 1055.2h-6.8M615.2 1137.9h-6.8M615.2 1137.9v6.8M738.9 1137.9v6.8M862.7 1137.9v6.8M986.4 1137.9v6.8" stroke="#000" stroke-width="3.5" fill="none" stroke-linejoin="miter" stroke-linecap="butt"/>
<text x="605.9" y="896.8" text-anchor="end" font-size="18.7">1.2</text>
<text x="605.9" y="979.6" text-anchor="end" font-size="18.7">1.0</text>
<text x="605.9" y="1062.4" text-anchor="end" font-size="18.7">0.8</text>
<text x="605.9" y="1145.1" text-anchor="end" font-size="18.7">0.6</text>
<text x="615.2" y="1165.5" text-anchor="middle" font-size="18.7">0</text>
<text x="738.9" y="1165.5" text-anchor="middle" font-size="18.7">20</text>
<text x="862.7" y="1165.5" text-anchor="middle" font-size="18.7">40</text>
<text x="986.4" y="1165.5" text-anchor="middle" font-size="18.7">60</text>
<text x="530.3" y="840.9" font-size="24">h</text>
<text x="800.5" y="860.4" text-anchor="middle" font-size="20.0">r = 0.485</text>
<text x="800.5" y="886.4" text-anchor="middle" font-size="20.0">p < 10<tspan dy="-6.8" font-size="14.8">-4</tspan><tspan dy="6.8">&#8203;</tspan></text>
<text x="800.8" y="1207.1" text-anchor="middle" font-size="20.0" clip-path="url(#cl-h)">tPA (ng/mL)</text>
<text transform="translate(542.9 1014.2) rotate(-90)" text-anchor="middle" font-size="20.0">Waist / Hip circumference</text>
</g>
<clipPath id="cl-i"><rect x="1010" y="1149.7" width="520" height="60"/></clipPath>
<g id="panel-i">
<path d="M1280.1 945.3h0M1170.2 1000.7h0M1219.6 1007.5h0M1233.3 1018.3h0M1248.6 1016.7h0M1246.2 1019.6h0M1189.1 1025.1h0M1223.1 1028h0M1202.4 1041.6h0M1180.3 1043.7h0M1174.7 1054.5h0M1190.5 1056.1h0M1184.7 1057.9h0M1203.4 1060.5h0M1238.3 1058.6h0M1153.9 1063.4h0M1172.6 1063.2h0M1187.9 1063.7h0M1223.1 1063.4h0M1227.8 1063.4h0M1174.7 1066.1h0M1199.4 1066.8h0M1182.1 1070h0M1208.9 1069.5h0M1140.9 1072.6h0M1212 1075.2h0M1193.7 1075.8h0M1199.4 1078.4h0M1177.7 1079.1h0M1167.1 1080.7h0M1218.3 1080.5h0M1230.9 1080h0M1248.5 1077.9h0M1205.7 1082.6h0M1230.4 1082.6h0M1176.3 1085.2h0M1200.5 1086.3h0M1282.4 1089.9h0M1217.8 1089.4h0M1205.7 1089.4h0M1162.1 1091.5h0M1184.2 1090.5h0M1153.7 1093.6h0M1222.5 1093.6h0M1233.9 1095.9h0M1211 1097.3h0M1225.2 1098.3h0M1141.7 1101h0M1193.1 1101h0M1256.7 1103.1h0M1260.6 1103.4h0M1205.7 1104.1h0M1213.1 1103.1h0M1246.7 1107.8h0M1213.1 1108.8h0M1251.7 1113h0M1188.9 1113h0M1178.4 1116.2h0M1200.5 1118h0M1211.3 1118h0M1141.1 1115.7h0M1140.1 1120.9h0M1145.9 1121.4h0M1152.9 1125.1h0M1162.7 1122h0M1170 1123h0M1186.7 1090.7h0M1191.2 1089.7h0M1155.1 1095.1h0M1160.8 1094.5h0M1166.2 1094.6h0M1171.6 1093.5h0M1178.5 1095.5h0M1183.6 1094.7h0M1187.6 1093.4h0M1193 1093h0M1199.7 1093.9h0M1205.4 1093.8h0M1145.8 1098.1h0M1153.7 1098.8h0M1159.4 1098.6h0M1162.3 1099.2h0M1169.7 1098.2h0M1173.3 1098.4h0M1181.2 1099.6h0M1184.3 1098.2h0M1189.7 1097.7h0M1197.1 1098h0M1201.9 1098.7h0M1143.5 1104.2h0M1148.8 1104h0M1154.3 1103.4h0M1160 1103h0M1167.5 1104.4h0M1171.2 1104.7h0M1176.4 1103.3h0M1183.6 1104h0M1187 1104.9h0M1192.8 1102.9h0M1146.4 1108.6h0M1152.2 1108.2h0M1159.3 1108.3h0M1163.7 1109.3h0M1168.1 1107.4h0M1175.5 1109.2h0M1179.2 1107.5h0M1186 1109.5h0M1143.1 1114.3h0M1149.1 1113.6h0M1154.6 1113.9h0M1161 1112.5h0M1165.3 1113.7h0M1170.5 1112.3h0M1177.3 1114h0M1182.9 1112.5h0M1141.9 1116.8h0M1146.7 1118.9h0M1153.9 1118.2h0M1158.6 1118h0M1162.5 1116.5h0M1167.6 1118.9h0M1459.5 1059.7h0" stroke="#000" stroke-width="9.4" stroke-linecap="round" fill="none"/>
<line x1="1138.6" y1="1105" x2="1460.8" y2="1006.7" stroke="#000" stroke-width="3.0"/>
<path d="M1123 891.9V1139.8H1493.9M1123 893.7h-6.8M1123 975.7h-6.8M1123 1057.8h-6.8M1123 1139.8h-6.8M1123 1139.8v6.8M1245.8 1139.8v6.8M1368.6 1139.8v6.8M1491.3 1139.8v6.8" stroke="#000" stroke-width="3.5" fill="none" stroke-linejoin="miter" stroke-linecap="butt"/>
<text x="1113.7" y="900.9" text-anchor="end" font-size="18.7">6</text>
<text x="1113.7" y="982.9" text-anchor="end" font-size="18.7">4</text>
<text x="1113.7" y="1065" text-anchor="end" font-size="18.7">2</text>
<text x="1113.7" y="1147" text-anchor="end" font-size="18.7">0</text>
<text x="1123" y="1167.4" text-anchor="middle" font-size="18.7">0</text>
<text x="1245.8" y="1167.4" text-anchor="middle" font-size="18.7">20</text>
<text x="1368.6" y="1167.4" text-anchor="middle" font-size="18.7">40</text>
<text x="1491.3" y="1167.4" text-anchor="middle" font-size="18.7">60</text>
<text x="1052.4" y="844.9" font-size="24">i</text>
<text x="1307.1" y="864.7" text-anchor="middle" font-size="20.0">r = 0.503</text>
<text x="1307.1" y="890.4" text-anchor="middle" font-size="20.0">p < 10<tspan dy="-6.8" font-size="14.8">-4</tspan><tspan dy="6.8">&#8203;</tspan></text>
<text x="1306.8" y="1208.9" text-anchor="middle" font-size="20.0" clip-path="url(#cl-i)">tPA (ng/mL)</text>
<text transform="translate(1064.4 1017.7) rotate(-90)" text-anchor="middle" font-size="20.0">Triglyceridemia (mM)</text>
</g>
<clipPath id="cl-j"><rect x="1500" y="1196.5" width="520" height="60"/></clipPath>
<g id="panel-j">
<path d="M1682.6 961.1h0M1667.4 967.5h0M1663 978.9h0M1671.2 978.5h0M1672.9 982.1h0M1659.2 990.1h0M1656.5 993.2h0M1657.4 997.2h0M1661.9 998.4h0M1658.8 1004.4h0M1658.5 1009.7h0M1679.7 1007.5h0M1696 1006.6h0M1707 1008.1h0M1666.3 1012.6h0M1674.4 1012.6h0M1680.2 1012.9h0M1685.5 1017.3h0M1692.9 1019.4h0M1667.2 1022.5h0M1682 1022.7h0M1668.6 1027.1h0M1675.7 1025.8h0M1682 1027.1h0M1656.5 1027.1h0M1651.6 1030.3h0M1689.1 1030.7h0M1695.4 1031.2h0M1662.8 1034.3h0M1652.5 1037h0M1698.9 1035.2h0M1689.1 1034.3h0M1723 1032.1h0M1723.9 1035.6h0M1743.1 1024.3h0M1792.2 1032.3h0M1675.7 1039.6h0M1668.6 1041.4h0M1662.3 1042.3h0M1722.1 1040.1h0M1711.4 1041.9h0M1741.3 1041.9h0M1733.8 1044.1h0M1653.4 1047.1h0M1662.3 1047.7h0M1673.9 1046.8h0M1702.5 1045.9h0M1714.1 1047.7h0M1729.7 1052.1h0M1661.4 1053.5h0M1678.4 1053.5h0M1711.4 1053h0M1651.6 1056.9h0M1727.5 1055.7h0M1757.9 1056.6h0M1762.3 1056.6h0M1766.8 1056.6h0M1740.6 1060.2h0M1667.7 1060.2h0M1664.6 1065.1h0M1718.6 1067.3h0M1731.5 1068.2h0M1756.5 1068.2h0M1732.9 1071.3h0M1729.3 1073.6h0M1667.9 1073.3h0M1709.6 1074.5h0M1716.8 1072.7h0M1770.4 1073.3h0M1756.3 1076.4h0M1789.7 1074.9h0M1728.1 1084.3h0M1700.7 1086.1h0M1709.6 1087.6h0M1737.8 1086.1h0M1743.6 1084.7h0M1748.5 1086.1h0M1724.2 1099h0M1758.5 1097.4h0M1666.8 1037h0M1673.9 1034.3h0M1679.3 1036.1h0M1671.2 1040.5h0M1673.7 1046.7h0M1679 1046.5h0M1684.5 1046.7h0M1687.9 1046.8h0M1693.6 1046.6h0M1699 1045.7h0M1703.7 1045.7h0M1708.7 1044.9h0M1715.2 1046.7h0M1675.7 1051h0M1679.8 1050.9h0M1685.7 1049.6h0M1690.3 1050.5h0M1695.6 1050.3h0M1701.7 1050.1h0M1705.7 1050.4h0M1711.1 1049.7h0M1716.2 1050.1h0M1679.3 1054.6h0M1683.9 1056h0M1687.3 1054h0M1694.5 1055.8h0M1699.2 1054h0M1703.8 1055.8h0M1710.2 1055.7h0M1713.6 1055.8h0M1681 1059.9h0M1685.1 1059.7h0M1691.3 1059.6h0M1695.9 1060h0M1701 1058.8h0M1705.7 1059.8h0M1710.8 1058.7h0M1715.8 1059.7h0M1682.9 1062.8h0M1687.2 1065.1h0M1692.7 1063.3h0M1698.2 1064.1h0M1702.9 1063.8h0M1708.9 1064.7h0M1713.1 1063.4h0M1681.2 1067.8h0M1684.7 1068.3h0M1692.1 1069h0M1695.6 1068.8h0M1702.3 1067.7h0M1706.8 1068h0M1711.1 1067.8h0M1683.6 1071.5h0M1689.2 1072h0M1693.6 1073h0M1698.4 1072.3h0M1703.8 1071.9h0M1710.1 1071.8h0M1689.9 1077.4h0M1967.4 1060.3h0" stroke="#000" stroke-width="9.4" stroke-linecap="round" fill="none"/>
<line x1="1651.3" y1="1032.4" x2="1968.2" y2="1119.2" stroke="#000" stroke-width="3.0"/>
<path d="M1633.9 897.3V1142.8H2001.3M1633.9 899h-6.8M1633.9 980.3h-6.8M1633.9 1061.5h-6.8M1633.9 1142.8h-6.8M1633.9 1142.8v6.8M1755.6 1142.8v6.8M1877.3 1142.8v6.8M1999 1142.8v6.8" stroke="#000" stroke-width="3.5" fill="none" stroke-linejoin="miter" stroke-linecap="butt"/>
<text x="1624.6" y="906.2" text-anchor="end" font-size="18.7">1.5</text>
<text x="1624.6" y="987.5" text-anchor="end" font-size="18.7">1.0</text>
<text x="1624.6" y="1068.7" text-anchor="end" font-size="18.7">0.5</text>
<text x="1624.6" y="1150" text-anchor="end" font-size="18.7">0.0</text>
<text x="1633.9" y="1170.4" text-anchor="middle" font-size="18.7">0</text>
<text x="1755.6" y="1170.4" text-anchor="middle" font-size="18.7">20</text>
<text x="1877.3" y="1170.4" text-anchor="middle" font-size="18.7">40</text>
<text x="1999" y="1170.4" text-anchor="middle" font-size="18.7">60</text>
<text x="1553.1" y="848.9" font-size="24">j</text>
<text x="1816.6" y="870.9" text-anchor="middle" font-size="19.7">r = - 0.496</text>
<text x="1816.6" y="895.8" text-anchor="middle" font-size="19.7">p < 10<tspan dy="-6.7" font-size="14.6">-4</tspan><tspan dy="6.7">&#8203;</tspan></text>
<text x="1816.6" y="1211.3" text-anchor="middle" font-size="19.7" clip-path="url(#cl-j)">tPA (ng/mL)</text>
<text transform="translate(1564.3 1020.9) rotate(-90)" text-anchor="middle" font-size="19.7">HDL (mM)</text>
</g>
<g id="panel-k">
<path d="M545.5 1326.4h0M501.4 1348.1h0M514 1352.9h0M532.5 1355.1h0M461.7 1357.6h0M439.4 1360h0M472.4 1383.7h0M485.6 1384h0M501 1384h0M469 1391.3h0M518.4 1396.1h0M547.6 1397.9h0M591.3 1396h0M452 1405.2h0M478.4 1405.5h0M489.2 1408.1h0M518.7 1407.9h0M535.7 1405.2h0M531.4 1410.5h0M548.3 1405.8h0M588.7 1410.5h0M452 1413h0M509.6 1412.4h0M505.4 1417.8h0M465.1 1419.9h0M484 1424.7h0M446.9 1427.2h0M524.7 1427.2h0M536.3 1427h0M556 1427h0M460.7 1431.6h0M472.4 1429.1h0M478.1 1431.6h0M452.2 1436.7h0M470.5 1436.7h0M502 1434.2h0M552.7 1434.5h0M580.2 1434.2h0M624.7 1431.6h0M522.6 1436.7h0M476.2 1441.7h0M511.5 1438.6h0M504.5 1439.8h0M533.3 1443.6h0M511.8 1444.2h0M456.9 1446.4h0M489.4 1446.1h0M441.5 1448.7h0M478.1 1447.4h0M628.7 1443.6h0M607 1449h0M615.7 1449h0M633.7 1449h0M470.5 1451.2h0M463.6 1453.4h0M480.6 1452.4h0M489.4 1451.2h0M544.6 1451.4h0M566.7 1453.4h0M529.1 1453.1h0M435.2 1455.6h0M423.2 1458.4h0M430.2 1458.7h0M475.5 1456.2h0M484.4 1456.8h0M531.6 1456.2h0M441.5 1460.6h0M559.7 1460.6h0M456.6 1463.2h0M463.6 1463.2h0M472.4 1463.2h0M488.2 1462.5h0M495.7 1463.2h0M505.8 1463.2h0M510.8 1460.6h0M519.4 1460.6h0M519.4 1463.5h0M543.9 1463.2h0M566.3 1463.2h0M498.2 1466.3h0M508.3 1466.9h0M566.3 1468.2h0M441.5 1470.7h0M461.7 1470.7h0M583.3 1470.3h0M541.5 1473h0M505.4 1475.1h0M495.7 1477.4h0M440.3 1480.2h0M474.9 1479.5h0M516.9 1479.5h0M525.3 1477h0M529.5 1482.4h0M461.7 1484.8h0M474.3 1484.6h0M491.3 1486.5h0M498.9 1489h0M515.9 1487.5h0M477.4 1489.6h0M466.1 1492.1h0M468.6 1494.7h0M493.2 1492.8h0M510.8 1494h0M436.5 1496.6h0M447.6 1496.3h0M467.7 1497.2h0M486.3 1499.1h0M498.2 1497.2h0M491.9 1499.1h0M508.9 1499.1h0M515 1499.1h0M440.3 1503.9h0M449.7 1503.9h0M485.6 1504.1h0M480.6 1506.3h0M483.5 1506.6h0M447.6 1510.4h0M432.4 1513.3h0M457.3 1513.6h0M510.8 1513.3h0M445.7 1518.2h0M495.3 1520.5h0M483.5 1523h0M509.6 1523h0M522.8 1527.4h0M506.4 1527.7h0M451.6 1530.6h0M457.3 1535h0M508.3 1535h0M521.8 1532.9h0M451 1541.9h0M687.9 1422.2h0M707.4 1418.2h0M717.6 1427.1h0" stroke="#000" stroke-width="9.4" stroke-linecap="round" fill="none"/>
<line x1="422.1" y1="1472.3" x2="718.9" y2="1413.4" stroke="#000" stroke-width="3.0"/>
<path d="M389.2 1305.3V1547.3H750.4M389.2 1307.1h-6.8M389.2 1427.2h-6.8M389.2 1547.3h-6.8M389.2 1547.3v6.8M478.9 1547.3v6.8M568.7 1547.3v6.8M658.4 1547.3v6.8M748.1 1547.3v6.8" stroke="#000" stroke-width="3.5" fill="none" stroke-linejoin="miter" stroke-linecap="butt"/>
<text x="379.9" y="1314.3" text-anchor="end" font-size="18.7">200</text>
<text x="379.9" y="1434.4" text-anchor="end" font-size="18.7">150</text>
<text x="379.9" y="1554.5" text-anchor="end" font-size="18.7">100</text>
<text x="389.2" y="1574.9" text-anchor="middle" font-size="18.7">0</text>
<text x="478.9" y="1574.9" text-anchor="middle" font-size="18.7">2</text>
<text x="568.7" y="1574.9" text-anchor="middle" font-size="18.7">4</text>
<text x="658.4" y="1574.9" text-anchor="middle" font-size="18.7">6</text>
<text x="748.1" y="1574.9" text-anchor="middle" font-size="18.7">8</text>
<text x="284.5" y="1259.6" font-size="24">k</text>
<text x="568.9" y="1276.2" text-anchor="middle" font-size="19.2">r = 0.246</text>
<text x="568.9" y="1299.8" text-anchor="middle" font-size="19.2">p = 0.002</text>
<text x="568.7" y="1615.1" text-anchor="middle" font-size="19.2">IgA (g/L)</text>
<text transform="translate(289 1427.6) rotate(-90)" text-anchor="middle" font-size="19.2">Systolic blood</text>
<text transform="translate(311.8 1427.6) rotate(-90)" text-anchor="middle" font-size="19.2">pressure (mmHg)</text>
</g>
<g id="panel-l">
<path d="M985.1 1334.5h0M1009.1 1344.6h0M1003.3 1356.7h0M928.8 1360.6h0M997.2 1364.7h0M1056.8 1364.2h0M1064.8 1365.3h0M1075 1368.7h0M974.6 1370.5h0M979.6 1371.1h0M983.2 1374.2h0M945.4 1374.4h0M1026.4 1370.5h0M1018.7 1374.2h0M1044.1 1374.2h0M969.9 1381.9h0M989.8 1382.1h0M981.2 1385.8h0M1008.6 1386h0M1027.3 1382.1h0M1050.7 1382.1h0M1040.2 1386h0M1076.1 1386.2h0M1093.2 1386.5h0M970.7 1390.4h0M1026.2 1391.2h0M990.6 1393.7h0M996.1 1392.6h0M947 1394.5h0M960.8 1397h0M971.3 1395.7h0M979 1398.1h0M1040.2 1393.7h0M1061.7 1393.9h0M1075.5 1397.2h0M1126.2 1396.1h0M1017.4 1398.1h0M991.1 1400.3h0M1012.6 1402.5h0M1041.3 1402.7h0M1068.9 1403.8h0M1098.7 1403.1h0M992.8 1407.5h0M1019.6 1407.3h0M1054.3 1406.9h0M935.8 1411.3h0M946.1 1412.8h0M984 1411.3h0M988.9 1410.2h0M1003.5 1413.3h0M1040 1413h0M963.6 1417.6h0M975.7 1419.9h0M985.6 1419.6h0M996.7 1418h0M1012.6 1419.6h0M1030 1419.6h0M1117.1 1417.6h0M972.7 1423.5h0M996.7 1421.8h0M1002.7 1426.8h0M975.1 1426.8h0M1031.4 1424h0M1018.7 1428.4h0M946.1 1432.3h0M953.1 1432.8h0M963.6 1433.9h0M968.5 1432.3h0M977.4 1432.3h0M1032.8 1430.1h0M1016 1433.4h0M1021.5 1434.5h0M1101.4 1437.8h0M982.3 1442.2h0M976.8 1443.1h0M1006 1440.9h0M999.4 1444.2h0M1019.3 1440.6h0M1016 1444.4h0M1056 1443.7h0M945.4 1446.6h0M1033.6 1446.1h0M957.5 1448.8h0M963.9 1449.2h0M984.7 1448.8h0M942.1 1450.5h0M1012.6 1446.6h0M1037.8 1450.3h0M1014.9 1454h0M937.9 1457.7h0M947.6 1456.3h0M958.3 1459.3h0M993.3 1456.6h0M984 1459.9h0M993.3 1462.6h0M983.2 1464.8h0M1017.1 1463.5h0M1023.7 1462.6h0M1027.5 1464.8h0M1052.6 1464.8h0M967.2 1467h0M1006.4 1469h0M947 1474.8h0M958.3 1474.8h0M978.5 1473.1h0M985.1 1473.1h0M990.6 1475.1h0M968 1476.4h0M951.4 1479.7h0M961.9 1479.7h0M977.4 1478.6h0M1053.5 1479.5h0M998.5 1481.4h0M1037.8 1480.8h0M1030.6 1484.4h0M955.3 1484.1h0M1012.6 1484.1h0M1001.1 1486.1h0M1008.2 1485.2h0M957.8 1488.5h0M968.3 1489.4h0M979 1487.4h0M987.5 1491.3h0M1014.9 1489.1h0M1019 1490.8h0M1089.9 1491.9h0M1000.8 1497.4h0M955.3 1500.7h0M954.5 1506h0M1016 1510.8h0M1200.1 1394.9h0M1220.2 1385.5h0M1230.9 1432.4h0M1144.9 1475.8h0M1139 1374.6h0M1135 1386.1h0" stroke="#000" stroke-width="9.4" stroke-linecap="round" fill="none"/>
<line x1="927.9" y1="1445" x2="1232.8" y2="1388.8" stroke="#000" stroke-width="3.0"/>
<path d="M893.1 1297.8V1546H1265.3M893.1 1299.6h-6.8M893.1 1340.6h-6.8M893.1 1381.7h-6.8M893.1 1422.8h-6.8M893.1 1463.8h-6.8M893.1 1504.9h-6.8M893.1 1546h-6.8M893.1 1546v6.8M985.5 1546v6.8M1077.9 1546v6.8M1170.4 1546v6.8M1262.8 1546v6.8" stroke="#000" stroke-width="3.5" fill="none" stroke-linejoin="miter" stroke-linecap="butt"/>
<text x="883.8" y="1306.8" text-anchor="end" font-size="18.7">1.2</text>
<text x="883.8" y="1347.8" text-anchor="end" font-size="18.7">1.1</text>
<text x="883.8" y="1388.9" text-anchor="end" font-size="18.7">1.0</text>
<text x="883.8" y="1430" text-anchor="end" font-size="18.7">0.9</text>
<text x="883.8" y="1471" text-anchor="end" font-size="18.7">0.8</text>
<text x="883.8" y="1512.1" text-anchor="end" font-size="18.7">0.7</text>
<text x="883.8" y="1553.2" text-anchor="end" font-size="18.7">0.6</text>
<text x="893.1" y="1573.6" text-anchor="middle" font-size="18.7">0</text>
<text x="985.5" y="1573.6" text-anchor="middle" font-size="18.7">2</text>
<text x="1077.9" y="1573.6" text-anchor="middle" font-size="18.7">4</text>
<text x="1170.4" y="1573.6" text-anchor="middle" font-size="18.7">6</text>
<text x="1262.8" y="1573.6" text-anchor="middle" font-size="18.7">8</text>
<text x="811.7" y="1250.8" font-size="24">l</text>
<text x="1078.2" y="1267.7" text-anchor="middle" font-size="20.0">r = 0.253</text>
<text x="1078.2" y="1291.8" text-anchor="middle" font-size="20.0">p = 0.002</text>
<text x="1077.9" y="1614.3" text-anchor="middle" font-size="20.0">IgA (g/L)</text>
<text transform="translate(821.1 1422.8) rotate(-90)" text-anchor="middle" font-size="20.0">Waist / Hip circumference</text>
</g>
<g id="panel-m">
<path d="M1518.1 1370.7h0M1460.4 1381.9h0M1470.2 1385.2h0M1488.4 1381.9h0M1500.8 1393.6h0M1490.2 1396.7h0M1461.1 1399.9h0M1539.6 1401.4h0M1503.8 1407.9h0M1471.2 1409.4h0M1486.9 1410.9h0M1481.4 1412.9h0M1485.9 1416.3h0M1525.8 1410.6h0M1520.8 1415.9h0M1532.8 1416.1h0M1450.9 1420.5h0M1456.9 1422.3h0M1493.1 1425.3h0M1476.9 1427.3h0M1480.9 1427.3h0M1521.3 1425.6h0M1515.3 1427.3h0M1508.8 1430.1h0M1445 1431.8h0M1449.4 1433.3h0M1454.9 1428.8h0M1461.4 1428.8h0M1531.8 1433.3h0M1536.3 1435.8h0M1539.8 1438.8h0M1554 1433.6h0M1563.2 1433.6h0M1590.8 1430.3h0M1480.4 1435.3h0M1485.9 1433.8h0M1492.4 1435.8h0M1499.3 1436.3h0M1516.8 1436.8h0M1522.3 1438.3h0M1449.4 1439.8h0M1461.9 1440.8h0M1441.5 1443.3h0M1464.9 1443.3h0M1507.8 1440.8h0M1481.9 1443.8h0M1546 1447.8h0M1446.9 1447.8h0M1453.9 1448.8h0M1460.4 1449.3h0M1466.9 1446.8h0M1477.9 1449.8h0M1487.9 1448.8h0M1494.8 1446.8h0M1501.8 1447.8h0M1508.8 1448.8h0M1515.8 1449.8h0M1520.3 1448.8h0M1439.2 1454.8h0M1448.9 1453.3h0M1491.9 1453.8h0M1499.8 1454.8h0M1507.8 1454.8h0M1594.1 1454.3h0M1466.4 1458.3h0M1473.9 1459.8h0M1481.9 1459.8h0M1456.4 1461.3h0M1495.8 1458.8h0M1503.8 1459.8h0M1520.8 1456.8h0M1528.8 1459.8h0M1555.7 1458.8h0M1570.7 1459.8h0M1516.8 1461.8h0M1529.8 1463.8h0M1542.7 1462.8h0M1541.7 1466.2h0M1566.2 1464.2h0M1458.4 1467.7h0M1471.4 1466.7h0M1484.4 1467.2h0M1514.8 1467.7h0M1577.2 1469.2h0M1493.8 1469.7h0M1504.8 1469.7h0M1555.7 1469.7h0M1558.7 1471.2h0M1599.6 1469.7h0M1602.1 1472.7h0M1432.5 1474h0M1466.4 1472.7h0M1523.8 1472.7h0M1534.8 1472.5h0M1529.3 1473.7h0M1546.2 1475.5h0M1474.4 1478.7h0M1481.9 1476.7h0M1485.9 1476.7h0M1495.8 1475.7h0M1495.8 1479.2h0M1505.3 1472.7h0M1514.8 1475.7h0M1521.3 1475.7h0M1576.7 1477.7h0M1576.7 1479.2h0M1533.3 1482.2h0M1511.3 1487h0M1485.9 1488.7h0M1488.7 1488.7h0M1526.3 1488.7h0M1528.1 1490.2h0M1477.4 1501.7h0M1498.8 1466.7h0M1499.8 1473.7h0M1488.9 1462.8h0M1477.9 1474.7h0M1466.9 1465.7h0M1522.8 1468.7h0M1494.3 1433.3h0M1500.1 1434.3h0M1479.6 1437h0M1485.8 1437.9h0M1489.6 1437.7h0M1495.9 1436.6h0M1502.1 1437.4h0M1507.9 1439.1h0M1480.3 1441.8h0M1486.5 1444.1h0M1493.8 1443.5h0M1498.4 1442.8h0M1505.9 1441.7h0M1509.5 1441.5h0M1516.3 1443.8h0M1485.9 1447.4h0M1489.6 1447.3h0M1497.1 1447.3h0M1503.1 1447.4h0M1507.6 1446.6h0M1514.7 1448.7h0M1519.2 1446.7h0M1488.2 1452.2h0M1491.9 1454h0M1500.3 1451.9h0M1504.8 1452.8h0M1512 1451.5h0M1515.1 1453.9h0M1489.2 1456.5h0M1495.7 1458.3h0M1501.6 1457.4h0M1508.1 1458.5h0M1617.7 1364.6h0M1626.8 1438.8h0M1639.6 1448.5h0M1645 1457.9h0M1636.2 1499.9h0M1699.4 1482h0M1719.5 1477.7h0M1729.9 1487.1h0" stroke="#000" stroke-width="9.4" stroke-linecap="round" fill="none"/>
<line x1="1431.2" y1="1441.5" x2="1731.2" y2="1472.6" stroke="#000" stroke-width="3.0"/>
<path d="M1397.8 1300.8V1544.9H1763.3M1397.8 1302.5h-6.8M1397.8 1383.3h-6.8M1397.8 1464.1h-6.8M1397.8 1544.9h-6.8M1397.8 1544.9v6.8M1488.4 1544.9v6.8M1579 1544.9v6.8M1669.6 1544.9v6.8M1760.2 1544.9v6.8" stroke="#000" stroke-width="3.5" fill="none" stroke-linejoin="miter" stroke-linecap="butt"/>
<text x="1388.5" y="1309.7" text-anchor="end" font-size="18.7">1.5</text>
<text x="1388.5" y="1390.5" text-anchor="end" font-size="18.7">1.0</text>
<text x="1388.5" y="1471.3" text-anchor="end" font-size="18.7">0.5</text>
<text x="1388.5" y="1552.1" text-anchor="end" font-size="18.7">0.0</text>
<text x="1397.8" y="1572.5" text-anchor="middle" font-size="18.7">0</text>
<text x="1488.4" y="1572.5" text-anchor="middle" font-size="18.7">2</text>
<text x="1579" y="1572.5" text-anchor="middle" font-size="18.7">4</text>
<text x="1669.6" y="1572.5" text-anchor="middle" font-size="18.7">6</text>
<text x="1760.2" y="1572.5" text-anchor="middle" font-size="18.7">8</text>
<text x="1312.4" y="1250.8" font-size="24">m</text>
<text x="1578.8" y="1271.4" text-anchor="middle" font-size="19.2">r = -0.239</text>
<text x="1578.8" y="1295.5" text-anchor="middle" font-size="19.2">p = 0.004</text>
<text x="1578.8" y="1613.8" text-anchor="middle" font-size="19.2">IgA (g/L)</text>
<text transform="translate(1326.2 1424.1) rotate(-90)" text-anchor="middle" font-size="19.2">HDL (mM)</text>
</g>
<g id="panel-n">
<path d="M514.2 1739.3h0M512.3 1761.4h0M447.1 1766.2h0M531.6 1768.7h0M469.8 1771.2h0M508 1773.8h0M437.9 1798h0M434.5 1805.5h0M500.1 1798h0M506.1 1798.2h0M499.5 1810.6h0M527.6 1812.8h0M643.8 1810.6h0M597.1 1820.4h0M454.3 1820.4h0M478 1820h0M482.4 1822.8h0M492.5 1820h0M491.5 1823.8h0M475.3 1828.2h0M485 1828.2h0M525.7 1825.3h0M503 1832.6h0M549.5 1832.6h0M437.7 1835.1h0M520.3 1837.4h0M445.9 1839.9h0M477.4 1842.1h0M496.3 1842.1h0M542.1 1842.1h0M553 1842.5h0M473 1845h0M492.5 1847.1h0M464.5 1849.6h0M452.6 1852.2h0M508.9 1849.6h0M535.8 1849.6h0M545.5 1847.7h0M478 1854.4h0M472.4 1852.2h0M495 1852.2h0M502.6 1854.7h0M444 1856.9h0M450.9 1859.7h0M491.9 1859.7h0M471.1 1862.2h0M550.3 1859.5h0M463.5 1864.1h0M485.6 1864.5h0M449 1864.8h0M442.1 1867h0M513.3 1864.1h0M522.1 1866.7h0M498.8 1866.7h0M530.3 1867.3h0M557.7 1864.5h0M467.9 1867.9h0M437.1 1871.1h0M458.5 1871.7h0M476.8 1870.4h0M483.7 1870.4h0M543.2 1871.4h0M426.7 1874.2h0M441.5 1875.5h0M454.1 1876.7h0M470.5 1874.2h0M481.8 1876.7h0M519.6 1874.2h0M436.4 1878.6h0M449.7 1879.3h0M478 1879.3h0M498.8 1878.9h0M508.3 1879.3h0M526.9 1878.6h0M543.8 1879.6h0M466.7 1881.8h0M528.2 1881.8h0M458.5 1886.2h0M490.6 1884.3h0M495.7 1886.6h0M482.4 1888.7h0M469.2 1891.2h0M638.7 1886.6h0M445.9 1896.3h0M454.7 1896.3h0M476.4 1896.3h0M460.4 1894.4h0M550.5 1894.1h0M523.2 1896.5h0M496.9 1898.8h0M457.2 1901.9h0M511.8 1903.6h0M504.5 1903.8h0M576.1 1906.4h0M483.7 1906.1h0M480.9 1908.9h0M462.6 1908.9h0M506.4 1906.4h0M500.7 1911.4h0M439.3 1913.7h0M489 1913.7h0M457.9 1913.3h0M549.2 1913.7h0M447.1 1915.8h0M464.2 1916.4h0M475.9 1916.4h0M519 1916.2h0M449 1920.9h0M455.3 1920.9h0M516.5 1921.2h0M494.2 1923.8h0M504.9 1923.8h0M444.6 1928.4h0M461 1928.4h0M442.7 1931.2h0M463.5 1930.9h0M477.4 1930.9h0M461.6 1935.4h0M517.7 1938.3h0M454.5 1940.8h0M533.2 1940.8h0M464.5 1945.4h0M468.6 1948h0M461.6 1949.8h0M458.5 1953h0M552 1953h0M442.7 1959.9h0M671.2 1842.3h0" stroke="#000" stroke-width="9.4" stroke-linecap="round" fill="none"/>
<line x1="425.4" y1="1885.2" x2="671.8" y2="1835.6" stroke="#000" stroke-width="3.0"/>
<path d="M389.2 1717.4V1965H759.8M389.2 1719.1h-6.8M389.2 1842.1h-6.8M389.2 1965h-6.8M389.2 1965v6.8M462.9 1965v6.8M536.5 1965v6.8M610.2 1965v6.8M683.8 1965v6.8M757.5 1965v6.8" stroke="#000" stroke-width="3.5" fill="none" stroke-linejoin="miter" stroke-linecap="butt"/>
<text x="379.9" y="1726.3" text-anchor="end" font-size="18.7">200</text>
<text x="379.9" y="1849.3" text-anchor="end" font-size="18.7">150</text>
<text x="379.9" y="1972.2" text-anchor="end" font-size="18.7">100</text>
<text x="389.2" y="1992.6" text-anchor="middle" font-size="18.7">0</text>
<text x="462.9" y="1992.6" text-anchor="middle" font-size="18.7">500</text>
<text x="536.5" y="1992.6" text-anchor="middle" font-size="18.7">1000</text>
<text x="610.2" y="1992.6" text-anchor="middle" font-size="18.7">1500</text>
<text x="683.8" y="1992.6" text-anchor="middle" font-size="18.7">2000</text>
<text x="757.5" y="1992.6" text-anchor="middle" font-size="18.7">2500</text>
<text x="281" y="1666.3" font-size="24">n</text>
<text x="573.5" y="1688.3" text-anchor="middle" font-size="20.0">r = 0.205</text>
<text x="573.5" y="1711.9" text-anchor="middle" font-size="20.0">p = 0.013</text>
<text x="573.5" y="2033.8" text-anchor="middle" font-size="20.0">sCD163 (ng/mL)</text>
<text transform="translate(287.7 1842.3) rotate(-90)" text-anchor="middle" font-size="20.0">Systolic blood</text>
<text transform="translate(311 1842.3) rotate(-90)" text-anchor="middle" font-size="20.0">pressure (mmHg)</text>
</g>
<g id="panel-o">
<path d="M1051.3 1751.4h0M1017.7 1761.5h0M1056 1773.3h0M966.7 1777.2h0M1027.7 1781.6h0M997.9 1781h0M1004.5 1785.2h0M1058.8 1781.9h0M978 1787.6h0M987.1 1787.6h0M1054.7 1787.2h0M1055.8 1791.3h0M948.1 1790.7h0M1008.4 1791h0M1013.5 1791.3h0M982.1 1791.3h0M947 1798.8h0M988.2 1799h0M992.6 1799h0M1049.6 1798.5h0M962.3 1802.6h0M973.8 1802.9h0M999.2 1802.9h0M1002.5 1803.4h0M1011.7 1802.9h0M1037 1802.9h0M1055.1 1802.9h0M977.7 1806.5h0M941.3 1809.5h0M942.7 1812.8h0M968.9 1811.5h0M1000.3 1808.4h0M1005.8 1807.8h0M1014.6 1810.6h0M1025.3 1811.5h0M1048.6 1810.6h0M1063.5 1812.8h0M981.6 1814.2h0M989.8 1815.3h0M998.1 1813.3h0M1032.6 1815h0M950.9 1818.1h0M956.2 1819.4h0M961.4 1820.5h0M1008.4 1819.4h0M1031.5 1819.6h0M997.3 1824h0M961.2 1824.9h0M1019.6 1823.5h0M931.9 1828.6h0M953.2 1829.3h0M1010.2 1828.2h0M1025.1 1828.2h0M1030.1 1829.3h0M1033.9 1830.8h0M954.5 1834.3h0M963.9 1834.6h0M939.9 1837.3h0M997.3 1834.6h0M967.2 1838.2h0M976.6 1838.2h0M1014.1 1836.8h0M968.3 1840.9h0M1005.5 1842.8h0M983 1844.8h0M1011.9 1844.8h0M1022.9 1844.2h0M952.6 1847.5h0M972.7 1849.2h0M981.6 1849.2h0M1001.4 1847h0M1028.4 1849.5h0M1047.2 1849.2h0M951.8 1852.5h0M985.4 1853.6h0M1005.8 1855.8h0M959.5 1858.6h0M968.9 1859.7h0M988.2 1858.6h0M991.5 1859.1h0M1003.3 1859.1h0M1024 1861h0M1032.8 1861h0M950.7 1863.3h0M946.8 1865.7h0M974.9 1862.2h0M962.3 1865.7h0M967.8 1865.2h0M990.7 1865.7h0M1002 1867.4h0M941.6 1870.5h0M970.5 1870.7h0M1005.6 1873.8h0M948.5 1874.3h0M981 1875.7h0M1010.2 1880.1h0M982.1 1879.5h0M985.4 1882.8h0M988.2 1886.5h0M961.9 1881.5h0M949.4 1881.7h0M1038.9 1880.3h0M1049.9 1884.3h0M1081.9 1876.8h0M943.5 1885.6h0M942.4 1890.6h0M1102.9 1891.9h0M958.9 1890.6h0M964.5 1892.2h0M949.6 1894.4h0M1018.8 1892.8h0M967.2 1896.4h0M977.7 1895.8h0M984.9 1897.7h0M999.8 1897.2h0M994.8 1898.8h0M1035.9 1896.6h0M954.5 1899.4h0M1016.9 1899.4h0M969.4 1902.1h0M979.4 1902.1h0M989.3 1903.2h0M1000.5 1901.9h0M959.5 1904.3h0M958.9 1908h0M968.9 1905.4h0M978.2 1904.3h0M943.2 1908.4h0M1041.7 1909h0M986.5 1914.6h0M1021.8 1918.1h0M966.3 1922.9h0M1057.4 1928.1h0M1177.3 1798.7h0M1149.2 1854.9h0M1144.9 1872.6h0" stroke="#000" stroke-width="9.4" stroke-linecap="round" fill="none"/>
<line x1="930.6" y1="1858.4" x2="1178.4" y2="1812.9" stroke="#000" stroke-width="3.0"/>
<path d="M893.9 1713.9V1962.9H1266.7M893.9 1715.6h-6.8M893.9 1756.8h-6.8M893.9 1798h-6.8M893.9 1839.2h-6.8M893.9 1880.4h-6.8M893.9 1921.7h-6.8M893.9 1962.9h-6.8M893.9 1962.9v6.8M968 1962.9v6.8M1042 1962.9v6.8M1116 1962.9v6.8M1190.1 1962.9v6.8M1264.1 1962.9v6.8" stroke="#000" stroke-width="3.5" fill="none" stroke-linejoin="miter" stroke-linecap="butt"/>
<text x="884.6" y="1722.8" text-anchor="end" font-size="18.7">1.2</text>
<text x="884.6" y="1764" text-anchor="end" font-size="18.7">1.1</text>
<text x="884.6" y="1805.2" text-anchor="end" font-size="18.7">1.0</text>
<text x="884.6" y="1846.4" text-anchor="end" font-size="18.7">0.9</text>
<text x="884.6" y="1887.6" text-anchor="end" font-size="18.7">0.8</text>
<text x="884.6" y="1928.9" text-anchor="end" font-size="18.7">0.7</text>
<text x="884.6" y="1970.1" text-anchor="end" font-size="18.7">0.6</text>
<text x="893.9" y="1990.5" text-anchor="middle" font-size="18.7">0</text>
<text x="968" y="1990.5" text-anchor="middle" font-size="18.7">500</text>
<text x="1042" y="1990.5" text-anchor="middle" font-size="18.7">1000</text>
<text x="1116" y="1990.5" text-anchor="middle" font-size="18.7">1500</text>
<text x="1190.1" y="1990.5" text-anchor="middle" font-size="18.7">2000</text>
<text x="1264.1" y="1990.5" text-anchor="middle" font-size="18.7">2500</text>
<text x="799.7" y="1663.1" font-size="24">o</text>
<text x="1078.8" y="1684.8" text-anchor="middle" font-size="20.0">r = 0.225</text>
<text x="1078.8" y="1708.4" text-anchor="middle" font-size="20.0">p = 0.006</text>
<text x="1078.8" y="2032" text-anchor="middle" font-size="20.0">sCD163 (ng/mL)</text>
<text transform="translate(814.9 1839.6) rotate(-90)" text-anchor="middle" font-size="20.0">Waist / Hip circumference</text>
</g>
<g id="panel-p">
<path d="M1461.2 1777.7h0M1562.2 1784.2h0M1454.2 1795.4h0M1465.7 1795.4h0M1555 1798.9h0M1461.9 1807.1h0M1449.8 1810.1h0M1479.6 1813.4h0M1491.2 1814.4h0M1495.1 1821.4h0M1481.2 1822.9h0M1515.8 1824.6h0M1586.2 1824.7h0M1449.8 1826.2h0M1455.7 1829.7h0M1488.6 1829.7h0M1506.1 1829.4h0M1500.3 1836.1h0M1465.7 1839.3h0M1472.9 1839.3h0M1481.9 1840.8h0M1483.9 1840.8h0M1511.6 1840.6h0M1462.9 1842.3h0M1493.6 1843.8h0M1449 1845.3h0M1546.6 1844h0M1459.4 1848.6h0M1468.9 1846.8h0M1475.9 1847.8h0M1482.4 1850.8h0M1497.9 1848.8h0M1520 1847.1h0M1508.3 1851.8h0M1568.2 1852.1h0M1450.5 1853.6h0M1519.8 1853.6h0M1502.8 1852.8h0M1493.9 1855.3h0M1522.8 1855.3h0M1607.1 1855.3h0M1454.9 1856.8h0M1465.4 1858.3h0M1476.9 1854.8h0M1483.9 1856.8h0M1504.8 1857.8h0M1446.3 1863.8h0M1456.9 1863.6h0M1467.9 1862.8h0M1487.9 1861.8h0M1512.8 1862.3h0M1517.8 1863.8h0M1544.3 1861.6h0M1560.7 1861.6h0M1538.8 1863.8h0M1497.9 1865.8h0M1505.8 1866.8h0M1532.8 1866.8h0M1487.9 1868.8h0M1525.8 1868.8h0M1512.8 1870.8h0M1540.8 1873.3h0M1462.4 1875.8h0M1467.9 1872.8h0M1475.9 1873.8h0M1483.9 1872.8h0M1495.9 1872.8h0M1523.8 1871.8h0M1554.2 1873.3h0M1553.2 1876.8h0M1563.4 1877.8h0M1468.9 1879.8h0M1477.9 1880.8h0M1487.9 1879.8h0M1527.3 1880.8h0M1535.8 1879.8h0M1457.4 1884.2h0M1503.3 1883.8h0M1523.8 1882.8h0M1536.8 1883.3h0M1531.8 1885.2h0M1448 1887.5h0M1459.4 1886.2h0M1470.9 1886.7h0M1479.9 1885.7h0M1490.4 1886.2h0M1507.8 1885.7h0M1560.2 1886.2h0M1555.7 1887.7h0M1453.4 1889.2h0M1511.8 1889.7h0M1519.3 1889.2h0M1537.8 1891.2h0M1449.5 1893h0M1466.9 1892.5h0M1483.4 1891.2h0M1501.8 1892.7h0M1509.8 1891.7h0M1559.7 1891.7h0M1475.9 1895.7h0M1530.8 1895.7h0M1522.8 1900.7h0M1552.4 1900.7h0M1438.7 1902.4h0M1471.1 1902.5h0M1487.9 1902.4h0M1510.3 1903.7h0M1504.3 1913.7h0M1559.4 1915.2h0M1470.9 1851.8h0M1477.9 1859.8h0M1483.9 1864.8h0M1489.9 1872.8h0M1472.9 1869.8h0M1481.9 1877.8h0M1471.9 1883.8h0M1483.9 1883.8h0M1486.9 1875.8h0M1648.2 1834.3h0M1653 1886.5h0M1679.8 1889.2h0" stroke="#000" stroke-width="9.4" stroke-linecap="round" fill="none"/>
<line x1="1437.9" y1="1857.6" x2="1681.2" y2="1878.5" stroke="#000" stroke-width="3.0"/>
<path d="M1401.2 1713.9V1958.8H1767.8M1401.2 1715.6h-6.8M1401.2 1796.7h-6.8M1401.2 1877.8h-6.8M1401.2 1958.8h-6.8M1401.2 1958.8v6.8M1474.2 1958.8v6.8M1547.2 1958.8v6.8M1620.1 1958.8v6.8M1693.1 1958.8v6.8M1766.1 1958.8v6.8" stroke="#000" stroke-width="3.5" fill="none" stroke-linejoin="miter" stroke-linecap="butt"/>
<text x="1392" y="1722.8" text-anchor="end" font-size="18.7">1.5</text>
<text x="1392" y="1803.9" text-anchor="end" font-size="18.7">1.0</text>
<text x="1392" y="1885" text-anchor="end" font-size="18.7">0.5</text>
<text x="1392" y="1966" text-anchor="end" font-size="18.7">0.0</text>
<text x="1401.2" y="1986.4" text-anchor="middle" font-size="18.7">0</text>
<text x="1474.2" y="1986.4" text-anchor="middle" font-size="18.7">500</text>
<text x="1547.2" y="1986.4" text-anchor="middle" font-size="18.7">1000</text>
<text x="1620.1" y="1986.4" text-anchor="middle" font-size="18.7">1500</text>
<text x="1693.1" y="1986.4" text-anchor="middle" font-size="18.7">2000</text>
<text x="1766.1" y="1986.4" text-anchor="middle" font-size="18.7">2500</text>
<text x="1309.7" y="1662.3" font-size="24">p</text>
<text x="1583.4" y="1684.8" text-anchor="middle" font-size="19.5">r = -0.164</text>
<text x="1583.4" y="1708.4" text-anchor="middle" font-size="19.5">p = 0.048</text>
<text x="1583.4" y="2027.1" text-anchor="middle" font-size="19.5">sCD163 (ng/mL)</text>
<text transform="translate(1324.4 1838.3) rotate(-90)" text-anchor="middle" font-size="19.5">HDL (mM)</text>
</g>
</g>
</svg>
</body></html>
